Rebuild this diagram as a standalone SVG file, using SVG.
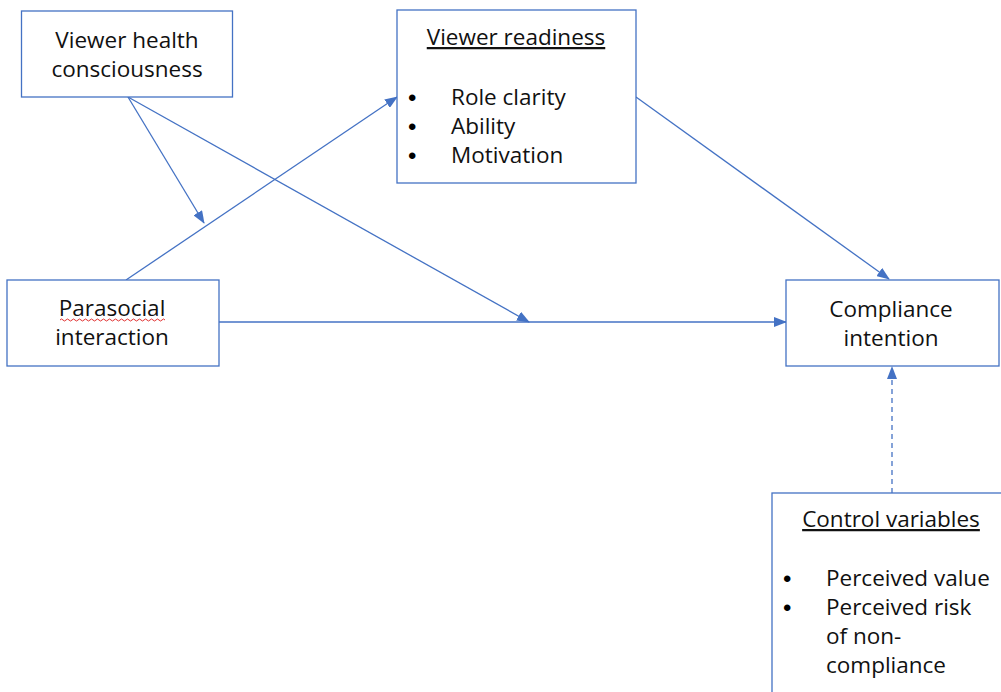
<svg xmlns="http://www.w3.org/2000/svg" width="1001" height="692" viewBox="0 0 1001 692">
<style>
.box{fill:#fff;stroke:#4472C4;stroke-width:1.3}
.t{font-family:"Open Sans","Liberation Sans",sans-serif;font-size:22.5px;fill:#111}
.b{font-family:"Liberation Sans",sans-serif;font-size:24px;fill:#000}
.c{text-anchor:middle}
.u{text-decoration:underline}
.ln{stroke:#4472C4;stroke-width:1.3;fill:none}
</style>
<defs>
<marker id="ah" markerWidth="13" markerHeight="10" refX="12" refY="5" orient="auto" markerUnits="userSpaceOnUse">
<path d="M0,0 L13,5 L0,10 Z" fill="#4472C4"/>
</marker>
</defs>
<rect width="1001" height="692" fill="#fff"/>
<g id="connectors">
<line class="ln" x1="128" y1="97" x2="204" y2="223" marker-end="url(#ah)"/>
<line class="ln" x1="128" y1="97" x2="529" y2="322" marker-end="url(#ah)"/>
<line class="ln" x1="126" y1="280" x2="397" y2="97" marker-end="url(#ah)"/>
<line class="ln" x1="219" y1="322" x2="786" y2="322" marker-end="url(#ah)"/>
<line class="ln" x1="636" y1="97" x2="889" y2="279" marker-end="url(#ah)"/>
<line class="ln" x1="892" y1="493" x2="892" y2="367" stroke-dasharray="5,4" marker-end="url(#ah)"/>
</g>
<g id="viewer-health">
<rect class="box" x="21.5" y="11" width="211" height="86"/>
<text class="t c" x="127" y="48">Viewer health</text>
<text class="t c" x="127" y="77">consciousness</text>
</g>
<g id="viewer-readiness">
<rect class="box" x="397" y="10" width="239" height="173"/>
<text class="t c u" x="516" y="45">Viewer readiness</text>
<text class="b" x="408" y="106">•</text>
<text class="t" x="451" y="105">Role clarity</text>
<text class="b" x="408" y="135">•</text>
<text class="t" x="451" y="134">Ability</text>
<text class="b" x="408" y="164">•</text>
<text class="t" x="451" y="163">Motivation</text>
</g>
<g id="parasocial">
<rect class="box" x="7" y="280" width="212" height="86"/>
<text class="t c" x="112" y="316">Parasocial</text>
<text class="t c" x="112" y="345">interaction</text>
<path d="M60,320 q1.5,-2 3,0 t3,0 t3,0 t3,0 t3,0 t3,0 t3,0 t3,0 t3,0 t3,0 t3,0 t3,0 t3,0 t3,0 t3,0 t3,0 t3,0 t3,0 t3,0 t3,0 t3,0 t3,0 t3,0 t3,0 t3,0 t3,0 t3,0 t3,0 t3,0 t3,0 t3,0 t3,0 t3,0 t3,0 t3,0" fill="none" stroke="#e03030" stroke-width="1"/>
</g>
<g id="compliance">
<rect class="box" x="786" y="280" width="213" height="86"/>
<text class="t c" x="891" y="317">Compliance</text>
<text class="t c" x="891" y="346">intention</text>
</g>
<g id="control">
<rect class="box" x="772" y="493" width="240" height="220"/>
<text class="t c u" x="891" y="527">Control variables</text>
<text class="b" x="783" y="587">•</text>
<text class="t" x="826" y="586">Perceived value</text>
<text class="b" x="783" y="616">•</text>
<text class="t" x="826" y="615">Perceived risk</text>
<text class="t" x="826" y="644">of non-</text>
<text class="t" x="826" y="673">compliance</text>
</g>
</svg>
